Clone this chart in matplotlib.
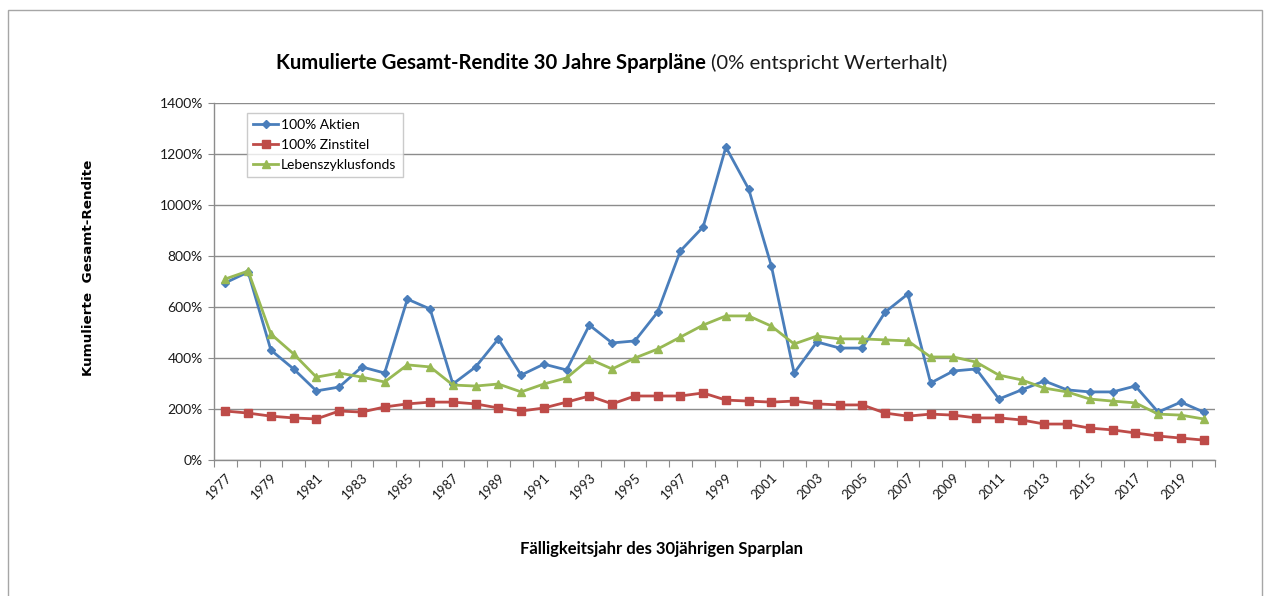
import matplotlib
matplotlib.use("Agg")
import matplotlib.pyplot as plt
from matplotlib.patches import Rectangle
from matplotlib.ticker import FixedLocator, FuncFormatter

years = list(range(1977, 2021))

aktien = [695, 737, 431, 357, 271, 286, 365, 341, 631, 592,
          298, 365, 475, 333, 376, 353, 529, 459, 467, 580,
          820, 914, 1227, 1063, 761, 341, 463, 439, 439, 580,
          651, 302, 349, 357, 239, 275, 310, 275, 267, 267,
          290, 188, 227, 188]

zinstitel = [192, 184, 172, 165, 161, 192, 188, 208, 220, 227,
             227, 220, 204, 192, 204, 227, 251, 220, 251, 251,
             251, 263, 235, 231, 227, 231, 220, 216, 216, 184,
             172, 180, 176, 165, 165, 157, 141, 141, 125, 118,
             106, 94, 86, 78]

lebenszyklus = [710, 741, 494, 416, 325, 341, 325, 306, 373, 365,
                294, 290, 298, 267, 298, 322, 396, 357, 400, 435,
                482, 529, 565, 565, 525, 455, 486, 475, 475, 471,
                467, 404, 404, 384, 333, 314, 282, 267, 239, 231,
                224, 180, 176, 161]

series_names = ["100% Aktien", "100% Zinstitel", "Lebenszyklusfonds"]
y_ticks = [0, 200, 400, 600, 800, 1000, 1200, 1400]

W, H = 1270, 596
fig = plt.figure(figsize=(W / 100, H / 100), dpi=100)
fig.patch.set_facecolor("white")

# outer chart frame
fig.patches.append(Rectangle((8 / W, -0.05), (1262 - 8) / W, 1.05 - 10 / H,
                             transform=fig.transFigure, fill=False,
                             edgecolor="#a6a6a6", linewidth=1.0))

ax = fig.add_axes([214 / W, (H - 460) / H, (1215 - 214) / W, (460 - 103) / H])

font = "Lato"
x = list(range(len(years)))

ax.plot(x, aktien, color="#4A7EBB", linewidth=2.0, marker="D", markersize=4,
        label=series_names[0], zorder=3)
ax.plot(x, zinstitel, color="#BE4B48", linewidth=2.0, marker="s", markersize=6,
        label=series_names[1], zorder=3)
ax.plot(x, lebenszyklus, color="#98B954", linewidth=2.0, marker="^", markersize=6,
        label=series_names[2], zorder=3)

ax.set_xlim(-0.5, len(years) - 0.5)
ax.set_ylim(0, 1400)

# y axis
ax.set_yticks(y_ticks)
ax.yaxis.set_major_formatter(FuncFormatter(lambda v, p: f"{int(v)}%"))
ax.grid(axis="y", color="#8c8c8c", linewidth=1.0, zorder=0)
ax.tick_params(axis="y", length=4, color="#8c8c8c", labelsize=10, pad=4,
               labelcolor="#1a1a1a")

# x axis: ticks at category boundaries, labels every 2nd category
ax.xaxis.set_major_locator(FixedLocator([i - 0.5 for i in range(len(years) + 1)]))
ax.xaxis.set_major_formatter(FuncFormatter(lambda v, p: ""))
label_pos = [i for i in x if i % 2 == 0]
ax.xaxis.set_minor_locator(FixedLocator(label_pos))
ax.set_xticklabels([str(years[i]) for i in label_pos], minor=True, rotation=45,
                   ha="right", rotation_mode="anchor", fontsize=9.5,
                   color="#1a1a1a", family=font)
ax.tick_params(axis="x", which="major", length=5, color="#8c8c8c", direction="out")
ax.tick_params(axis="x", which="minor", length=0, pad=8)

for lab in ax.get_yticklabels():
    lab.set_family(font)

for side in ["top", "right"]:
    ax.spines[side].set_visible(False)
for side in ["left", "bottom"]:
    ax.spines[side].set_color("#8c8c8c")
    ax.spines[side].set_linewidth(1.0)

leg = ax.legend(loc="upper left", bbox_to_anchor=(33 / 1001, 1 - 10 / 357),
                frameon=True, fancybox=False, edgecolor="#bfbfbf",
                prop={"family": font, "size": 10}, handlelength=1.8,
                handletextpad=0.2, borderpad=0.45, labelspacing=0.55,
                borderaxespad=0)
leg.get_frame().set_linewidth(1.0)

# title in two parts
fig.text(706 / W, 1 - 63 / H, "Kumulierte Gesamt-Rendite 30 Jahre Sparpläne",
         ha="right", va="center", fontsize=14.6, fontweight="bold", family=font)
fig.text(711 / W, 1 - 63 / H, "(0% entspricht Werterhalt)",
         ha="left", va="center", fontsize=14.6, family=font, color="#1a1a1a")

fig.text(661 / W, 1 - 549 / H, "Fälligkeitsjahr des 30jährigen Sparplan",
         ha="center", va="center", fontsize=12, fontweight="bold", family=font)

fig.text(88 / W, 1 - 268 / H, "Kumulierte  Gesamt-Rendite", rotation=90,
         ha="center", va="center", fontsize=9.7, fontweight="bold",
         family="DejaVu Sans")

fig.savefig("out.png", dpi=100, facecolor="white")
